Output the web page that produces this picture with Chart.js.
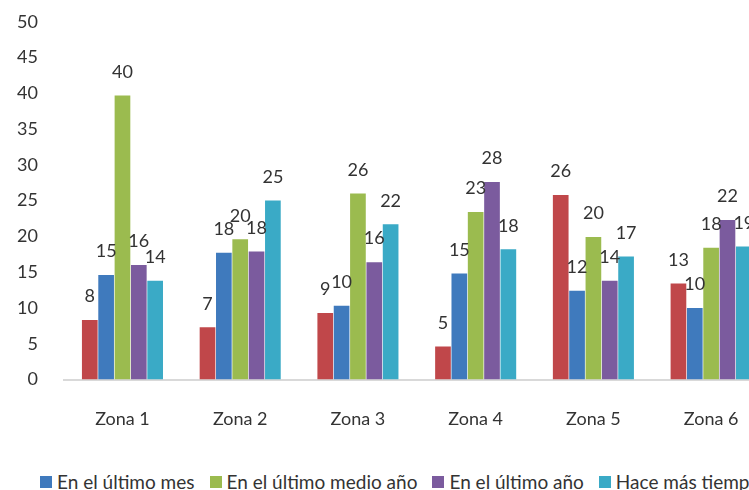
<!DOCTYPE html>
<html>
<head>
<meta charset="utf-8">
<script src="https://cdn.jsdelivr.net/npm/chart.js@4/dist/chart.umd.min.js"></script>
<style>
  html, body { margin: 0; padding: 0; background: #fff; overflow: hidden; width: 749px; height: 490px; }
  #wrap { position: absolute; left: 0; top: 0; width: 780px; height: 440px; }
  #legend { position: absolute; left: 40px; top: 470px; display: flex; align-items: center; white-space: nowrap;
            font-family: Lato, sans-serif; font-size: 19px; color: #333; }
  .item { display: flex; align-items: center; margin-right: 15px; }
  .sw { width: 12px; height: 12px; margin-right: 5px; display: inline-block; }
</style>
</head>
<body>
<div id="wrap"><canvas id="c"></canvas></div>
<div id="legend"></div>
<script>
const categories = ['Zona 1', 'Zona 2', 'Zona 3', 'Zona 4', 'Zona 5', 'Zona 6'];
const seriesNames = ['En la última semana', 'En el último mes', 'En el último medio año', 'En el último año', 'Hace más tiempo'];
const serieSemana = [8.3, 7.3, 9.3, 4.6, 25.8, 13.4];
const serieMes = [14.6, 17.7, 10.3, 14.8, 12.4, 10.0];
const serieMedioAno = [39.7, 19.6, 26.0, 23.4, 19.9, 18.4];
const serieAno = [16.0, 17.9, 16.4, 27.6, 13.8, 22.3];
const serieMasTiempo = [13.8, 25.0, 21.7, 18.2, 17.2, 18.6];
const yTicks = [0, 5, 10, 15, 20, 25, 30, 35, 40, 45, 50];
const colors = ['#c0474a', '#3f7abd', '#9bbb4f', '#7b5b9e', '#3aaac6'];
const legendShown = [false, true, true, true, true];

const allSeries = [serieSemana, serieMes, serieMedioAno, serieAno, serieMasTiempo];
const FONT = 'Lato, sans-serif';

const labelPlugin = {
  id: 'barLabels',
  afterDatasetsDraw(chart) {
    const ctx = chart.ctx;
    ctx.save();
    ctx.font = '18px ' + FONT;
    ctx.fillStyle = '#333';
    ctx.textAlign = 'center';
    ctx.textBaseline = 'middle';
    chart.data.datasets.forEach((ds, i) => {
      chart.getDatasetMeta(i).data.forEach((el, j) => {
        ctx.fillText(String(Math.round(ds.data[j])), el.x, el.y - 23.5);
      });
    });
    ctx.restore();
  }
};

new Chart(document.getElementById('c'), {
  type: 'bar',
  data: {
    labels: categories,
    datasets: allSeries.map((d, i) => ({
      label: seriesNames[i],
      data: d,
      backgroundColor: colors[i],
      borderWidth: 0,
      barPercentage: 0.96,
      categoryPercentage: 0.694
    }))
  },
  options: {
    responsive: true,
    maintainAspectRatio: false,
    animation: false,
    layout: { padding: { top: 21.7, right: 10, bottom: 0, left: 0 } },
    plugins: { legend: { display: false }, tooltip: { enabled: false } },
    scales: {
      x: {
        grid: { display: false, drawTicks: false },
        border: { display: true, color: '#d9d9d9', width: 2 },
        ticks: { font: { family: FONT, size: 18 }, color: '#333', padding: 29, maxRotation: 0 },
        afterFit(s) { s.height = 60.5; }
      },
      y: {
        min: 0, max: 50,
        grid: { display: false, drawTicks: false },
        border: { display: false },
        afterBuildTicks(s) { s.ticks = yTicks.map(v => ({ value: v })); },
        ticks: { font: { family: FONT, size: 18 }, color: '#333', padding: 25.6 },
        afterFit(s) { s.width = 63.6; s.paddingTop = 11; s.paddingBottom = 11; }
      }
    }
  },
  plugins: [labelPlugin]
});

const lg = document.getElementById('legend');
seriesNames.forEach((n, i) => {
  if (!legendShown[i]) return;
  const it = document.createElement('div');
  it.className = 'item';
  const sw = document.createElement('span');
  sw.className = 'sw';
  sw.style.background = colors[i];
  const tx = document.createElement('span');
  tx.textContent = n;
  it.appendChild(sw); it.appendChild(tx);
  lg.appendChild(it);
});
</script>
</body>
</html>
